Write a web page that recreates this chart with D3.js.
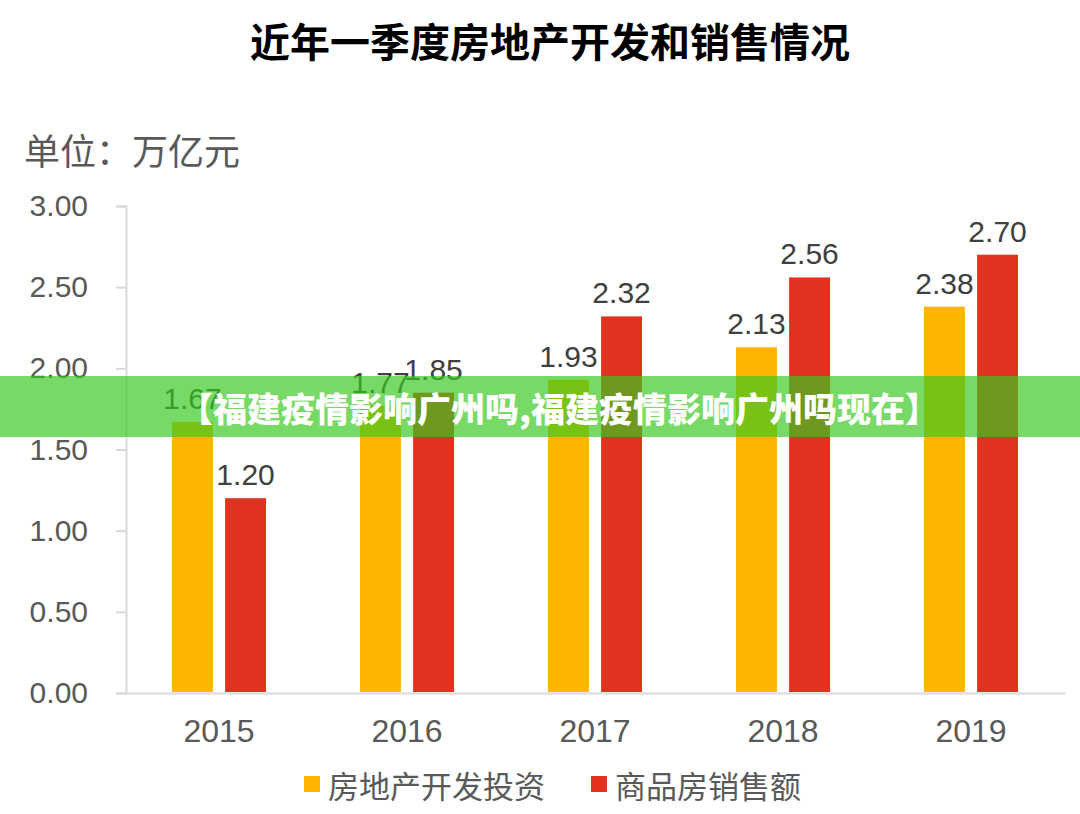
<!DOCTYPE html>
<html>
<head>
<meta charset="utf-8">
<script src="https://cdn.jsdelivr.net/npm/d3@7"></script>
<style>
  html, body { margin: 0; padding: 0; background: #ffffff; }
  svg { display: block; }
</style>
</head>
<body>
<svg id="chart" width="1080" height="814"></svg>
<script>
const titleText = "近年一季度房地产开发和销售情况";
const unitText = "单位：万亿元";
const bannerText = "【福建疫情影响广州吗,福建疫情影响广州吗现在】";
const years = ["2015", "2016", "2017", "2018", "2019"];
const seriesNames = ["房地产开发投资", "商品房销售额"];
const investment = [1.67, 1.77, 1.93, 2.13, 2.38];
const sales = [1.20, 1.85, 2.32, 2.56, 2.70];
const yTicks = [0, 0.5, 1.0, 1.5, 2.0, 2.5, 3.0];
const colors = ["#FFB400", "#E0321F"];

const svg = d3.select("#chart");
const cjk = "'Noto Sans CJK SC', 'Noto Sans', sans-serif";
const num = "'Liberation Sans', Arial, 'DejaVu Sans', sans-serif";

const x = d3.scaleBand().domain(years).range([125, 1065]).paddingInner(0).paddingOuter(0);
const xs = d3.scaleBand().domain(seriesNames).range([-47, 47]).paddingInner(0.23);
const y = d3.scaleLinear().domain([0, 3]).range([693, 206]);

// Title
svg.append("text")
  .attr("x", 550).attr("y", 40)
  .attr("text-anchor", "middle").attr("dominant-baseline", "central")
  .style("font-family", cjk).style("font-weight", "bold").style("font-size", "40px")
  .style("fill", "#000").text(titleText);

// Unit
svg.append("text")
  .attr("x", 24).attr("y", 149)
  .attr("dominant-baseline", "central")
  .style("font-family", cjk).style("font-size", "36px")
  .style("fill", "#595959").text(unitText);

// Y axis
const yAxis = d3.axisLeft(y).tickValues(yTicks).tickFormat(d3.format(".2f"))
  .tickSizeInner(10).tickSizeOuter(10).tickPadding(28);
const gy = svg.append("g").attr("transform", "translate(126,0)").call(yAxis);
gy.selectAll("path, line").attr("stroke", "#d9d9d9").attr("stroke-width", 2);
gy.selectAll("text").style("font-family", num).style("font-size", "30px").style("fill", "#595959");

// X axis
const xAxis = d3.axisBottom(x).tickSize(0).tickPadding(26);
const gx = svg.append("g").attr("transform", "translate(0,693)").call(xAxis);
gx.selectAll("path").attr("stroke", "#d9d9d9").attr("stroke-width", 2);
gx.selectAll("text").style("font-family", num).style("font-size", "32px").style("fill", "#595959");

// Bars
const rows = years.map((yr, i) => ({ year: yr, values: [investment[i], sales[i]] }));
const groups = svg.append("g").selectAll("g").data(rows).join("g")
  .attr("transform", d => `translate(${x(d.year) + x.bandwidth() / 2},0)`);

groups.selectAll("rect").data(d => d.values.map((v, j) => ({ name: seriesNames[j], v, j })))
  .join("rect")
  .attr("x", d => xs(d.name))
  .attr("width", xs.bandwidth())
  .attr("y", d => y(d.v))
  .attr("height", d => y(0) - y(d.v) - 1)
  .attr("fill", d => colors[d.j]);

groups.selectAll("text.lbl").data(d => d.values.map((v, j) => ({ name: seriesNames[j], v, j })))
  .join("text").attr("class", "lbl")
  .attr("x", d => xs(d.name) + xs.bandwidth() / 2)
  .attr("y", d => y(d.v) - 13)
  .attr("text-anchor", "middle")
  .style("font-family", num).style("font-size", "30px").style("fill", "#404040")
  .text(d => d3.format(".2f")(d.v));

// Legend
const legendX = [304, 591];
const lg = svg.append("g").selectAll("g").data(seriesNames).join("g")
  .attr("transform", (d, i) => `translate(${legendX[i]},776)`);
lg.append("rect").attr("width", 16).attr("height", 16).attr("fill", (d, i) => colors[i]);
lg.append("text").attr("x", 24).attr("y", 8).attr("dominant-baseline", "central")
  .style("font-family", cjk).style("font-size", "31px").style("fill", "#595959")
  .text(d => d);

// Overlay banner
svg.append("rect").attr("x", 0).attr("y", 376).attr("width", 1080).attr("height", 61)
  .attr("fill", "rgb(56,200,30)").attr("fill-opacity", 0.68);
svg.append("text")
  .attr("x", 559).attr("y", 407)
  .attr("text-anchor", "middle").attr("dominant-baseline", "central")
  .style("font-family", cjk).style("font-weight", 900).style("font-size", "34px")
  .style("fill", "#ffffff").text(bannerText);
</script>
</body>
</html>
